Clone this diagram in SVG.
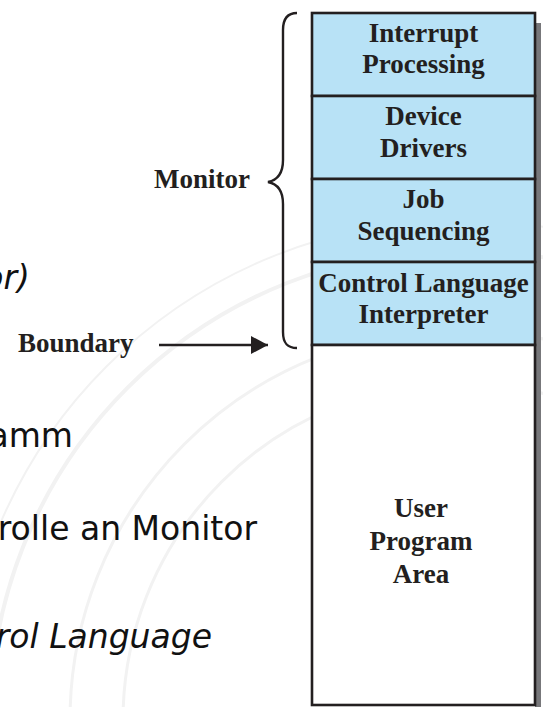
<svg xmlns="http://www.w3.org/2000/svg" width="543" height="707" viewBox="0 0 543 707">
<style>
.lbl{font-family:"Liberation Serif","Times New Roman",serif;font-weight:bold;font-size:27px;fill:#231f20;text-anchor:middle}
.side{font-family:"Liberation Serif","Times New Roman",serif;font-weight:bold;font-size:27px;fill:#231f20}
.slide{font-family:"DejaVu Sans",sans-serif;font-size:33px;fill:#111;text-anchor:end}
.it{font-style:oblique}
.layer{fill:#b8e2f6;stroke:#231f20;stroke-width:2.6}
.ring{fill:none;stroke:#f2f2f2}
</style>
<defs>
<marker id="ah" markerWidth="17" markerHeight="18" refX="17" refY="9" orient="auto" markerUnits="userSpaceOnUse">
<path d="M0,0 L17,9 L0,18 Z" fill="#231f20"/>
</marker>
</defs>
<rect width="543" height="707" fill="#fff"/>
<g id="watermark">
<circle class="ring" cx="460" cy="720" r="337" stroke-width="3"/>
<circle class="ring" cx="460" cy="720" r="390" stroke-width="3"/>
<circle class="ring" cx="460" cy="720" r="470" stroke-width="4"/>
<circle class="ring" cx="460" cy="720" r="500" stroke-width="2"/>
</g>
<g id="slide-text">
<text class="slide it" x="30" y="289">or)</text>
<text class="slide" x="73" y="447">amm</text>
<text class="slide" x="257" y="540">rolle an Monitor</text>
<text class="slide it" x="212" y="648">rol Language</text>
</g>
<rect id="shadow" x="535" y="23" width="6" height="684" fill="#77777a"/>
<g id="interrupt">
<rect class="layer" x="312" y="13" width="223" height="83"/>
<text class="lbl" x="423.5" y="42">Interrupt</text>
<text class="lbl" x="423.5" y="73">Processing</text>
</g>
<g id="drivers">
<rect class="layer" x="312" y="96" width="223" height="83"/>
<text class="lbl" x="423.5" y="125">Device</text>
<text class="lbl" x="423.5" y="157">Drivers</text>
</g>
<g id="job">
<rect class="layer" x="312" y="179" width="223" height="83"/>
<text class="lbl" x="423.5" y="208">Job</text>
<text class="lbl" x="423.5" y="240">Sequencing</text>
</g>
<g id="cli">
<rect class="layer" x="312" y="262" width="223" height="83"/>
<text class="lbl" x="423.5" y="292">Control Language</text>
<text class="lbl" x="423.5" y="323">Interpreter</text>
</g>
<g id="user">
<rect x="312" y="345" width="223" height="360" fill="#fff" stroke="#231f20" stroke-width="2.6"/>
<text class="lbl" x="421" y="517">User</text>
<text class="lbl" x="421" y="550">Program</text>
<text class="lbl" x="421" y="583">Area</text>
</g>
<g id="monitor">
<text class="side" x="154" y="188">Monitor</text>
</g>
<g id="boundary">
<text class="side" x="18" y="352">Boundary</text>
</g>
<g id="connectors" fill="none" stroke="#231f20" stroke-width="2.4">
<path d="M297,13 C288,13 283,18 283,30 L283,160 C283,172 278,180 268,182 C278,184 283,192 283,204 L283,332 C283,344 288,348 297,348"/>
<line x1="159" y1="345" x2="268" y2="345" marker-end="url(#ah)"/>
</g>
</svg>
